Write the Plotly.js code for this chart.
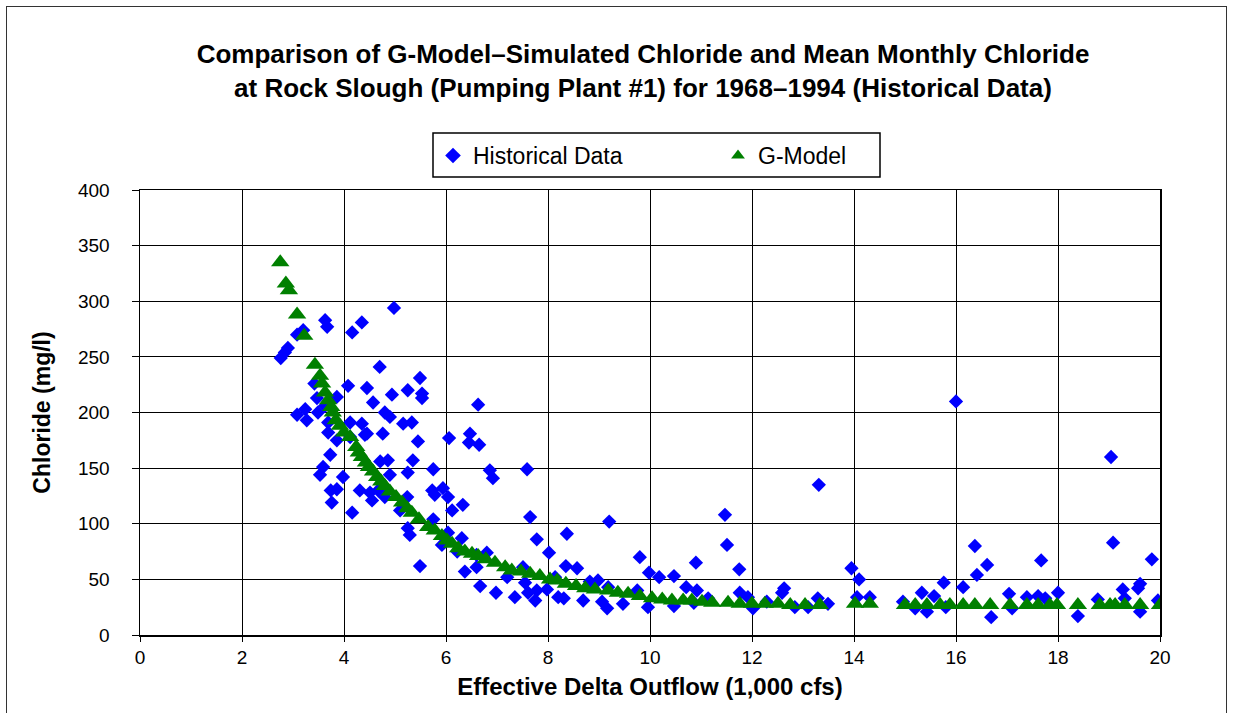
<!DOCTYPE html>
<html><head><meta charset="utf-8">
<script src="https://cdn.plot.ly/plotly-3.0.1.min.js"></script>
<style>
html,body{margin:0;padding:0;background:#fff;}
#wrap{position:relative;width:1233px;height:713px;overflow:hidden;}
#chart{position:absolute;left:0;top:0;width:1233px;height:713px;}
#frame{position:absolute;left:6px;top:6px;width:1219px;height:740px;border:1.5px solid #333;pointer-events:none;}
</style></head>
<body>
<div id="wrap"><div id="chart"></div><div id="frame"></div></div>
<script>
const histX = [2.76,2.84,2.9,3.08,3.2,3.63,3.67,4.16,4.35,4.98,4.7,5.49,3.42,4.08,4.45,5.25,5.53,5.53,4.94,3.47,
4.57,3.86,3.24,3.08,3.27,3.49,3.63,4.8,4.9,5.16,5.33,4.35,3.69,3.69,4.12,4.45,4.76,3.86,6.06,4.12,
5.45,6.47,6.45,6.65,6.63,3.73,4.71,4.86,5.35,3.59,3.53,3.98,4.9,5.25,5.75,3.74,3.86,4.31,4.51,4.67,
4.55,3.76,4.16,5.24,5.73,5.78,5.94,6.04,6.12,6.33,5.75,5.25,5.29,6.04,6.31,6.22,4.41,4.8,5.1,5.92,
5.49,6.86,6.92,7.59,7.65,9.2,7.78,8.37,8.02,6.8,6.6,9.8,6.37,6.6,7.51,8.35,8.57,7.2,8.14,8.82,
8.98,9.18,6.67,6.98,7.35,7.55,7.61,7.78,7.75,7.98,8.2,8.31,8.69,9.06,9.16,9.47,9.75,13.31,11.47,11.51,
11.75,10.9,9.98,10.18,10.47,10.71,10.92,11.14,11.76,11.92,12.02,12.63,12.59,9.96,10.47,10.86,12.29,12.84,13.1,13.29,
13.49,13.95,16.0,19.04,14.1,16.37,16.61,16.41,17.67,19.08,19.84,15.76,16.14,15.33,15.57,14.06,14.31,14.96,15.2,15.43,
15.8,16.69,17.04,17.1,17.39,17.61,17.75,18.0,18.39,18.78,19.27,19.31,19.57,19.61,19.61,19.96];
const histY = [249,254,258,270,274,283,277,272,281,294,241,231,226,224,222,220,217,213,216,213,
209,214,203,198,193,200,206,200,196,190,191,190,191,182,178,181,181,175,177,191,
174,181,173,171,207,162,156,157,157,151,144,142,144,146,149,130,131,130,128,130,
121,119,110,124,130,126,132,124,112,117,104,96,90,92,87,75,180,124,112,81,
62,148,141,149,106,102,86,91,74,74,72,70,57,61,61,62,60,52,52,48,
49,43,44,38,34,47,38,40,31,41,34,33,31,30,24,28,40,135,108,81,
59,65,56,52,53,43,40,33,38,34,24,42,38,25,26,29,30,25,25,33,
28,60,210,160,50,80,63,54,67,83,68,47,43,38,35,34,34,30,24,21,
25,16,37,24,34,35,33,38,17,32,41,33,42,46,21,31];

const modelX = [2.75,2.86,2.92,3.08,3.22,3.43,3.53,3.57,3.63,3.69,3.75,3.78,3.84,3.92,4.0,4.12,4.24,4.29,4.35,4.43,
4.49,4.57,4.65,4.73,4.8,4.9,5.02,5.14,5.24,5.33,5.47,5.65,5.78,5.92,6.02,6.12,6.24,6.37,6.51,6.63,
6.78,6.96,7.16,7.29,7.47,7.65,7.84,8.04,8.18,8.35,8.55,8.73,8.92,9.18,9.37,9.57,9.8,10.04,10.24,10.43,
10.65,10.82,11.02,11.22,11.53,11.76,12.0,12.25,12.51,12.75,13.04,13.33,14.02,14.31,15.0,15.2,15.43,15.69,15.88,16.14,
16.37,16.67,17.06,17.39,17.61,17.84,17.98,18.39,18.82,19.02,19.12,19.31,19.61,20.0];
const modelY = [335,316,310,288,269,243,233,226,218,211,205,200,193,188,182,178,169,164,160,155,
151,147,142,138,134,129,124,119,114,110,104,97,94,89,85,82,78,75,73,71,
68,65,61,58,57,55,53,50,49,46,44,42,41,40,38,37,35,33,32,31,
31,31,30,29,29,28,28,28,28,27,27,27,28,28,27,27,27,27,27,27,
27,27,27,27,27,27,27,27,27,27,27,27,27,27];

const xTicks = [0,2,4,6,8,10,12,14,16,18,20];
const yTicks = [0,50,100,150,200,250,300,350,400];

const FONT = 'Arial, "Liberation Sans", Helvetica, sans-serif';

const traces = [
  {x: histX, y: histY, type: 'scatter', mode: 'markers', name: 'Historical Data',
   marker: {symbol: 'diamond', size: 11, color: '#0000ff'}},
  {x: modelX, y: modelY, type: 'scatter', mode: 'markers', name: 'G-Model',
   marker: {symbol: 'triangle-up', size: 16, color: '#008000'}}
];

const plotL = 140, plotR = 1160, plotT = 190, plotB = 635;
const pw = plotR - plotL, ph = plotB - plotT;
const px = v => (v - plotL) / pw;
const py = v => (plotB - v) / ph;

const layout = {
  width: 1233, height: 713,
  margin: {l: plotL, r: 1233 - plotR, t: plotT, b: 713 - plotB, pad: 0},
  paper_bgcolor: 'rgba(0,0,0,0)', plot_bgcolor: '#fff',
  font: {family: FONT, color: '#000', size: 18},
  title: {text: 'Comparison of G-Model–Simulated Chloride and Mean Monthly Chloride<br>at Rock Slough (Pumping Plant #1) for 1968–1994 (Historical Data)',
    font: {family: FONT, size: 26, color: '#000', weight: 'bold'},
    xref: 'container', x: 643/1233, xanchor: 'center', yref: 'container', y: 1 - 63/713, yanchor: 'top'},
  xaxis: {range: [0, 20], tickvals: xTicks, ticktext: xTicks.map(String), showgrid: true, gridcolor: '#000', gridwidth: 1,
    zeroline: false, showline: true, linecolor: '#000', linewidth: 1.5, mirror: true,
    ticks: 'outside', ticklen: 5, tickcolor: '#000', tickfont: {size: 19},
    title: {text: 'Effective Delta Outflow (1,000 cfs)', font: {size: 24, weight: 'bold'}, standoff: 11}},
  yaxis: {range: [0, 400], tickvals: yTicks, ticktext: yTicks.map(String), showgrid: true, gridcolor: '#000', gridwidth: 1,
    zeroline: false, showline: true, linecolor: '#000', linewidth: 1.5, mirror: true,
    ticks: 'outside', ticklen: 7, tickcolor: '#000', tickfont: {size: 19}, ticklabelstandoff: 18,
    title: {text: 'Chloride (mg/l)', font: {size: 23, weight: 'bold'}, standoff: 21}},
  showlegend: true,
  legend: {orientation: 'h', x: px(433), xanchor: 'left', y: py(134), yanchor: 'top',
    bgcolor: 'rgba(0,0,0,0)', borderwidth: 0, font: {size: 23},
    entrywidth: 240, entrywidthmode: 'pixels', itemsizing: 'constant'},
  shapes: [
    {type: 'rect', xref: 'paper', yref: 'paper', x0: px(433), x1: px(880), y0: py(177), y1: py(133),
     line: {color: '#000', width: 1.5}, fillcolor: 'rgba(0,0,0,0)'}
  ]
};

Plotly.newPlot('chart', traces, layout, {displayModeBar: false, staticPlot: true});
</script>
</body></html>
